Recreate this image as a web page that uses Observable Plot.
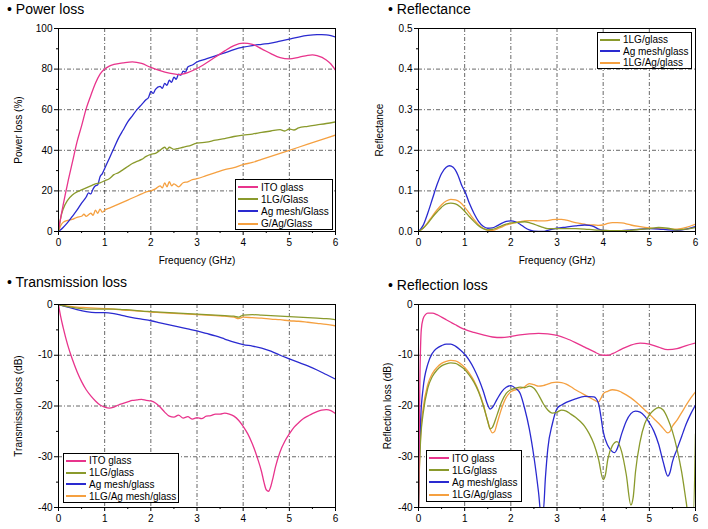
<!DOCTYPE html>
<html><head><meta charset="utf-8">
<script src="https://cdn.jsdelivr.net/npm/d3@7"></script>
<script src="https://cdn.jsdelivr.net/npm/@observablehq/plot@0.6"></script>
<style>
body{margin:0;background:#fff;}
#wrap{position:relative;width:708px;height:529px;overflow:hidden;font-family:"Liberation Sans",Arial,sans-serif;background:#fff;}
.title{position:absolute;font-size:14px;color:#000;white-space:nowrap;}
.panel{position:absolute;}
.legend{position:absolute;border:1px solid #000;background:#fff;font-size:10px;padding:1px 0 0 2px;box-sizing:border-box;}
.legend .row{display:flex;align-items:center;white-space:nowrap;}
.legend .sw{flex:0 0 auto;display:block;width:20px;height:2px;margin-right:3px;}
</style></head>
<body><div id="wrap"></div>
<script>
// ---------- colours / names ----------
const cITO = "#e8348c", c1LG = "#8a9a2c", cAg = "#2a2ad0", cOr = "#f5a040";

const xTicks = [0,1,2,3,4,5,6];
const xMinor = [0.5,1.5,2.5,3.5,4.5,5.5];
const xGrid = [1,2,3,4,5];

// ---------- Power loss (%) ----------
const plTicks = [0,20,40,60,80,100];
const plMinor = [10,30,50,70,90];
const plGrid = [20,40,60,80];
const plNames = ["ITO glass","1LG/Glass","Ag mesh/Glass","G/Ag/Glass"];
const plITO = [[0,1],[0.05,7],[0.1,13],[0.2,24],[0.3,34],[0.4,44],[0.5,52],[0.6,60.5],[0.7,67],[0.8,73],[0.9,77.5],[1.0,80],[1.1,81.5],[1.2,82.3],[1.4,83.1],[1.6,83.6],[1.8,82.8],[2.0,80.8],[2.2,79.2],[2.4,78],[2.6,77.3],[2.8,78.3],[3.0,80.3],[3.2,83],[3.4,86],[3.6,89],[3.8,91.6],[4.0,92.8],[4.2,92.2],[4.4,90],[4.6,87.6],[4.8,85.6],[5.0,85],[5.2,85.8],[5.4,86.8],[5.5,87],[5.6,86.6],[5.8,84.5],[5.9,82.5],[6.0,79.5]];
const pl1LG = [[0,0],[0.05,7],[0.1,11],[0.2,15.5],[0.3,18],[0.4,19.5],[0.5,20.5],[0.6,21.5],[0.7,22.5],[0.8,23.5],[0.9,24],[1.0,25],[1.1,26],[1.2,28],[1.3,29],[1.4,30.5],[1.5,32],[1.6,33.5],[1.7,34.5],[1.8,35.5],[1.9,37],[2.0,38],[2.1,38.5],[2.2,40],[2.3,41.5],[2.35,40.5],[2.4,41.5],[2.5,40.5],[2.6,41],[2.7,41.5],[2.8,42],[3.0,43.5],[3.2,44],[3.4,45],[3.6,45.8],[3.8,46.8],[4.0,47.5],[4.2,48],[4.4,48.8],[4.6,49.5],[4.8,50.2],[4.9,49.5],[5.0,50.5],[5.1,50],[5.2,51],[5.4,51.8],[5.6,52.5],[5.8,53.2],[6.0,54]];
const plAg = [[0,0],[0.1,2],[0.2,4.5],[0.3,7.5],[0.4,10.5],[0.5,14],[0.6,17],[0.65,19],[0.7,18.5],[0.75,21],[0.8,22.5],[0.85,23],[0.9,27],[0.95,28.5],[1.0,31],[1.1,36],[1.2,41],[1.3,46],[1.4,50],[1.5,54],[1.6,57],[1.7,60],[1.8,62.5],[1.9,65],[1.95,66],[2.0,69],[2.05,68],[2.1,70],[2.2,71.5],[2.25,70.5],[2.3,73],[2.35,72],[2.4,74.5],[2.45,73.5],[2.5,76],[2.55,75],[2.6,77.5],[2.65,77],[2.7,79],[2.75,78.5],[2.8,81],[2.9,82],[3.0,83.5],[3.2,85],[3.4,86.5],[3.6,88],[3.8,89.6],[4.0,90.8],[4.2,91.6],[4.4,92.2],[4.6,92.8],[4.8,93.8],[5.0,94.8],[5.2,95.8],[5.4,96.6],[5.6,97],[5.7,97],[5.8,96.9],[5.9,96.5],[6.0,95.8]];
const plGAg = [[0,0],[0.05,3],[0.1,4.5],[0.2,5.5],[0.3,6],[0.4,7],[0.5,7.5],[0.55,8.5],[0.6,7.5],[0.7,9],[0.75,8],[0.8,10.5],[0.85,9],[0.9,11],[0.95,9.5],[1.0,10.5],[1.1,11.5],[1.2,12.5],[1.3,13.5],[1.4,14.5],[1.5,15.5],[1.6,16.5],[1.7,17.5],[1.8,18.5],[1.9,19.5],[2.0,20],[2.1,21],[2.2,22.5],[2.25,21.5],[2.3,24],[2.35,22],[2.4,24.5],[2.45,22.5],[2.5,23.5],[2.6,22],[2.7,24],[2.8,24.5],[2.9,25.5],[3.0,26],[3.2,27.5],[3.4,29],[3.6,30.5],[3.8,31.5],[4.0,33],[4.2,34],[4.4,35.5],[4.6,37],[4.8,38.5],[5.0,40],[5.2,41.5],[5.4,43],[5.6,44.5],[5.8,46],[6.0,47.5]];

// ---------- Reflectance ----------
const rfTicks = [0,0.1,0.2,0.3,0.4,0.5];
const rfMinor = [0.05,0.15,0.25,0.35,0.45];
const rfGrid = [0.1,0.2,0.3,0.4];
const rfNames = ["1LG/glass","Ag mesh/glass","1LG/Ag/glass"];
const rf1LG = [[0,0],[0.1,0.008],[0.2,0.02],[0.3,0.035],[0.4,0.048],[0.5,0.06],[0.6,0.068],[0.7,0.07],[0.8,0.068],[0.9,0.061],[1.0,0.05],[1.1,0.037],[1.2,0.025],[1.3,0.014],[1.4,0.007],[1.5,0.004],[1.6,0.005],[1.7,0.009],[1.8,0.014],[1.9,0.018],[2.0,0.021],[2.1,0.022],[2.2,0.023],[2.3,0.024],[2.4,0.022],[2.5,0.018],[2.6,0.014],[2.7,0.01],[2.8,0.007],[3.0,0.007],[3.2,0.007],[3.4,0.007],[3.6,0.006],[3.8,0.004],[4.0,0.003],[4.2,0.002],[4.4,0.002],[4.6,0.003],[4.8,0.005],[5.0,0.007],[5.2,0.01],[5.4,0.008],[5.6,0.004],[5.8,0.006],[6.0,0.01]];
const rfAg = [[0,0],[0.1,0.015],[0.2,0.045],[0.3,0.08],[0.4,0.115],[0.5,0.143],[0.6,0.158],[0.67,0.162],[0.75,0.158],[0.85,0.14],[0.95,0.11],[1.0,0.1],[1.1,0.07],[1.2,0.045],[1.3,0.025],[1.4,0.013],[1.5,0.008],[1.6,0.009],[1.7,0.014],[1.8,0.02],[1.9,0.025],[2.0,0.026],[2.1,0.024],[2.2,0.018],[2.3,0.01],[2.4,0.004],[2.5,0.001],[2.7,0.0],[2.8,0.003],[3.0,0.008],[3.2,0.011],[3.4,0.014],[3.6,0.016],[3.7,0.015],[3.8,0.012],[3.9,0.006],[4.0,0.003],[4.2,0.002],[4.4,0.002],[4.6,0.004],[4.8,0.006],[5.0,0.007],[5.2,0.006],[5.4,0.004],[5.6,0.003],[5.8,0.006],[6.0,0.012]];
const rfGAg = [[0,0],[0.1,0.008],[0.2,0.022],[0.3,0.038],[0.4,0.053],[0.5,0.066],[0.6,0.075],[0.7,0.079],[0.8,0.078],[0.9,0.072],[1.0,0.06],[1.1,0.045],[1.2,0.03],[1.3,0.017],[1.4,0.008],[1.5,0.003],[1.6,0.003],[1.7,0.006],[1.8,0.011],[1.9,0.016],[2.0,0.019],[2.1,0.022],[2.2,0.024],[2.3,0.026],[2.4,0.027],[2.5,0.027],[2.6,0.026],[2.7,0.026],[2.8,0.027],[2.9,0.029],[3.0,0.03],[3.1,0.03],[3.2,0.028],[3.3,0.025],[3.4,0.022],[3.5,0.02],[3.6,0.018],[3.7,0.016],[3.8,0.016],[3.9,0.015],[4.0,0.016],[4.1,0.02],[4.2,0.022],[4.3,0.022],[4.4,0.021],[4.5,0.019],[4.6,0.016],[4.8,0.012],[5.0,0.009],[5.2,0.007],[5.4,0.006],[5.6,0.006],[5.8,0.01],[6.0,0.018]];

// ---------- Transmission loss (dB) ----------
const dbTicks = [0,-10,-20,-30,-40];
const dbMinor = [-5,-15,-25,-35];
const dbGrid = [-10,-20,-30];
const tlNames = ["ITO glass","1LG/glass","Ag mesh/glass","1LG/Ag mesh/glass"];
const tlITO = [[0,0],[0.05,-2.5],[0.1,-4.5],[0.2,-8],[0.3,-10.8],[0.4,-13.2],[0.5,-15.2],[0.6,-16.8],[0.7,-18],[0.8,-19],[0.9,-19.8],[1.0,-20.2],[1.1,-20.4],[1.2,-20.2],[1.3,-19.8],[1.4,-19.5],[1.5,-19.2],[1.6,-18.9],[1.7,-18.8],[1.8,-18.7],[1.9,-18.9],[2.0,-19],[2.1,-19.4],[2.2,-20.2],[2.3,-21.2],[2.4,-22],[2.5,-22.2],[2.6,-21.8],[2.7,-22.4],[2.8,-22.1],[2.9,-22.6],[3.0,-22.3],[3.1,-22.5],[3.2,-22],[3.3,-21.9],[3.4,-21.6],[3.5,-21.6],[3.6,-21.4],[3.7,-21.6],[3.8,-22],[3.9,-22.8],[4.0,-24],[4.1,-25.5],[4.2,-27.5],[4.3,-30],[4.4,-33],[4.45,-35],[4.5,-36.5],[4.55,-36.8],[4.6,-35.8],[4.65,-34],[4.7,-32],[4.8,-29],[4.9,-27],[5.0,-25.5],[5.1,-24.2],[5.2,-23.3],[5.3,-22.5],[5.4,-22],[5.5,-21.5],[5.6,-21.1],[5.7,-20.8],[5.8,-20.7],[5.9,-20.9],[6.0,-21.5]];
const tl1LG = [[0,0],[0.2,-0.4],[0.4,-0.7],[0.6,-0.9],[0.8,-0.9],[1.0,-0.9],[1.2,-0.9],[1.4,-1.0],[1.6,-1.1],[1.8,-1.3],[2.0,-1.4],[2.2,-1.5],[2.4,-1.6],[2.6,-1.7],[2.8,-1.8],[3.0,-1.9],[3.2,-2.0],[3.4,-2.1],[3.6,-2.2],[3.8,-2.3],[3.9,-2.5],[3.95,-2.3],[4.0,-2.1],[4.2,-2.0],[4.4,-2.1],[4.6,-2.2],[4.8,-2.3],[5.0,-2.4],[5.2,-2.5],[5.4,-2.6],[5.6,-2.7],[5.8,-2.8],[6.0,-3.0]];
const tlAg = [[0,0],[0.2,-0.5],[0.4,-1.0],[0.6,-1.4],[0.8,-1.6],[1.0,-1.6],[1.2,-1.8],[1.4,-2.2],[1.6,-2.6],[1.8,-2.9],[2.0,-3.2],[2.2,-3.6],[2.4,-4.0],[2.6,-4.4],[2.8,-4.8],[3.0,-5.2],[3.2,-5.7],[3.4,-6.2],[3.6,-6.8],[3.8,-7.4],[4.0,-7.9],[4.2,-8.2],[4.4,-8.6],[4.6,-9.2],[4.8,-10.0],[5.0,-10.7],[5.2,-11.4],[5.4,-12.1],[5.6,-12.9],[5.8,-13.8],[6.0,-14.7]];
const tlGAg = [[0,0],[0.2,-0.3],[0.4,-0.5],[0.6,-0.6],[0.8,-0.7],[1.0,-0.8],[1.2,-0.9],[1.4,-1.1],[1.6,-1.2],[1.8,-1.3],[2.0,-1.5],[2.2,-1.6],[2.4,-1.7],[2.6,-1.8],[2.8,-1.9],[3.0,-2.0],[3.2,-2.1],[3.4,-2.2],[3.6,-2.3],[3.8,-2.5],[3.9,-2.8],[4.0,-2.5],[4.2,-2.6],[4.4,-2.7],[4.6,-2.9],[4.8,-3.0],[5.0,-3.2],[5.2,-3.3],[5.4,-3.5],[5.6,-3.7],[5.8,-3.9],[6.0,-4.2]];

// ---------- Reflection loss (dB) ----------
const rlNames = ["ITO glass","1LG/glass","Ag mesh/glass","1LG/Ag/glass"];
const rlITO = [[0,-40],[0.03,-15],[0.06,-5],[0.1,-2.8],[0.15,-2.0],[0.2,-1.7],[0.3,-1.7],[0.4,-2.0],[0.5,-2.5],[0.6,-3.0],[0.7,-3.5],[0.8,-4.0],[0.9,-4.5],[1.0,-4.9],[1.2,-5.5],[1.4,-6.0],[1.6,-6.4],[1.8,-6.5],[2.0,-6.3],[2.2,-6.0],[2.4,-5.8],[2.6,-5.7],[2.8,-5.8],[3.0,-6.1],[3.2,-6.7],[3.4,-7.5],[3.6,-8.4],[3.8,-9.3],[4.0,-10.0],[4.1,-10.0],[4.2,-9.7],[4.4,-8.8],[4.6,-8.0],[4.8,-7.6],[5.0,-7.8],[5.2,-8.4],[5.4,-8.9],[5.6,-8.7],[5.8,-8.1],[6.0,-7.6]];
const rl1LG = [[0,-40],[0.02,-32],[0.05,-26],[0.1,-21.5],[0.2,-16.5],[0.3,-14.2],[0.4,-12.9],[0.5,-12.1],[0.6,-11.7],[0.7,-11.5],[0.8,-11.6],[0.9,-12.1],[1.0,-12.8],[1.1,-13.9],[1.2,-15.3],[1.3,-17.2],[1.4,-19.8],[1.5,-23],[1.55,-24.5],[1.6,-24.2],[1.7,-21.8],[1.8,-19.2],[1.9,-17.5],[2.0,-16.8],[2.1,-16.5],[2.2,-16.3],[2.3,-16.4],[2.4,-16.1],[2.5,-16.5],[2.6,-17.8],[2.7,-19.5],[2.8,-20.8],[2.9,-21.4],[3.0,-21.2],[3.1,-20.8],[3.2,-21],[3.3,-21.6],[3.4,-22.2],[3.5,-23],[3.6,-24],[3.7,-25.5],[3.8,-27.5],[3.9,-30.5],[4.0,-34.5],[4.05,-33.5],[4.1,-30.5],[4.2,-27.8],[4.3,-27],[4.4,-29],[4.5,-33.5],[4.6,-39.5],[4.65,-38],[4.7,-33],[4.8,-27],[4.9,-23.5],[5.0,-21.8],[5.1,-20.8],[5.2,-20.3],[5.3,-20.8],[5.4,-22.5],[5.5,-25],[5.6,-28.5],[5.7,-33],[5.8,-39],[5.85,-42],[5.95,-42],[6.0,-25.5]];
const rlAg = [[0,-40],[0.02,-30],[0.05,-22],[0.1,-16.5],[0.2,-11.8],[0.3,-9.6],[0.4,-8.6],[0.5,-8.1],[0.6,-7.8],[0.7,-7.8],[0.8,-8.2],[0.9,-8.9],[1.0,-9.8],[1.1,-11],[1.2,-12.6],[1.3,-14.6],[1.4,-17],[1.5,-19.8],[1.55,-20.6],[1.6,-20.3],[1.7,-18.7],[1.8,-17.2],[1.9,-16.3],[2.0,-16.0],[2.1,-16.5],[2.2,-17.5],[2.3,-20.5],[2.4,-24.5],[2.5,-30],[2.6,-37],[2.65,-41],[2.7,-41],[2.75,-34],[2.8,-28.5],[2.9,-23.5],[3.0,-20.5],[3.1,-19.8],[3.2,-19.3],[3.4,-18.6],[3.6,-18.1],[3.8,-18.2],[3.9,-19.5],[3.95,-22],[4.0,-25],[4.1,-27.8],[4.2,-29],[4.25,-29.2],[4.3,-28.5],[4.4,-25.5],[4.5,-23],[4.6,-21.5],[4.7,-21],[4.8,-21.2],[4.9,-22],[5.0,-23.3],[5.1,-25],[5.2,-27.5],[5.3,-31],[5.4,-33.8],[5.45,-33],[5.5,-31],[5.6,-28.5],[5.7,-26],[5.8,-23.5],[5.9,-21.5],[6.0,-19.8]];
const rlGAg = [[0,-40],[0.02,-32],[0.05,-25],[0.1,-20.5],[0.2,-15.8],[0.3,-13.6],[0.4,-12.4],[0.5,-11.6],[0.6,-11.2],[0.7,-11.0],[0.8,-11.1],[0.9,-11.6],[1.0,-12.4],[1.1,-13.5],[1.2,-15],[1.3,-17],[1.4,-19.6],[1.5,-23],[1.6,-25.3],[1.65,-25],[1.7,-23.5],[1.8,-20.5],[1.9,-18.3],[2.0,-17.2],[2.1,-16.8],[2.2,-16.6],[2.3,-16.2],[2.4,-15.6],[2.5,-15.8],[2.6,-16.1],[2.7,-16],[2.8,-15.7],[2.9,-15.4],[3.0,-15.3],[3.1,-15.4],[3.2,-15.7],[3.3,-16.2],[3.4,-16.8],[3.5,-17.3],[3.6,-17.8],[3.7,-18.3],[3.8,-18.8],[3.9,-19.2],[3.95,-18.5],[4.0,-17.6],[4.1,-17.1],[4.2,-16.8],[4.3,-16.9],[4.4,-17.3],[4.5,-17.8],[4.6,-18.4],[4.7,-19.1],[4.8,-19.9],[4.9,-20.8],[5.0,-21.6],[5.1,-22.5],[5.2,-23.4],[5.3,-24.4],[5.4,-25.3],[5.45,-25],[5.5,-24],[5.6,-22.8],[5.7,-21.3],[5.8,-19.8],[5.9,-18.4],[6.0,-17.2]];

// ---------- builder ----------
const FONT = "'Liberation Sans', Arial, sans-serif";
const wrap = document.getElementById("wrap");

function panel(o) {
  const marks = [
    Plot.gridX(xGrid, {stroke: "#000", strokeOpacity: 0.85, strokeWidth: 0.7, strokeDasharray: "4,2,1,2"}),
    Plot.gridY(o.yGrid, {stroke: "#000", strokeOpacity: 0.85, strokeWidth: 0.7, strokeDasharray: "4,2,1,2"}),
  ];
  o.series.slice().reverse().forEach(s => {
    marks.push(Plot.line(s.data, {x: d => d[0], y: d => d[1], stroke: s.color, strokeWidth: 1.3, curve: "monotone-x", clip: true}));
  });
  marks.push(Plot.frame({stroke: "#000", strokeWidth: 1}));
  marks.push(Plot.axisX(xTicks, {tickSize: 4, tickPadding: 3, tickFormat: d => String(d),
    label: o.xLabel || null, labelAnchor: "center", labelOffset: o.xLabelOffset || 0, labelArrow: "none"}));
  marks.push(Plot.axisX(xMinor, {tickSize: 2, tickFormat: () => "", label: null}));
  marks.push(Plot.axisY(o.yTicks, {tickSize: 4, tickPadding: 2, tickFormat: o.yFormat,
    label: o.yLabel, labelAnchor: "center", labelOffset: o.yLabelOffset, labelArrow: "none"}));
  marks.push(Plot.axisY(o.yMinor, {tickSize: 2, tickFormat: () => "", label: null}));
  const svg = Plot.plot({
    width: o.w, height: o.h,
    marginLeft: o.ml, marginRight: o.mr, marginTop: o.mt, marginBottom: o.mb,
    style: {fontFamily: FONT, fontSize: "10px", color: "#000", background: "transparent", overflow: "visible"},
    x: {domain: [0, 6]},
    y: {domain: o.yDomain},
    marks
  });
  const div = document.createElement("div");
  div.className = "panel";
  div.style.left = o.left + "px"; div.style.top = o.top + "px";
  div.appendChild(svg);
  wrap.appendChild(div);

  const t = document.createElement("div");
  t.className = "title";
  t.style.left = o.titleX + "px"; t.style.top = o.titleY + "px";
  t.textContent = "\u2022 " + o.title;
  wrap.appendChild(t);

  const lg = document.createElement("div");
  lg.className = "legend";
  Object.assign(lg.style, {left: o.lg[0] + "px", top: o.lg[1] + "px", width: o.lg[2] + "px", height: o.lg[3] + "px"});
  o.series.forEach(s => {
    const r = document.createElement("div"); r.className = "row";
    r.style.height = o.lgRow + "px";
    const sw = document.createElement("span"); sw.className = "sw"; sw.style.background = s.color;
    const tx = document.createElement("span"); tx.textContent = s.name;
    r.appendChild(sw); r.appendChild(tx); lg.appendChild(r);
  });
  wrap.appendChild(lg);
}

panel({left: 0, top: 0, w: 354, h: 270, ml: 58, mr: 19, mt: 28, mb: 39,
  yDomain: [0, 100], yTicks: plTicks, yMinor: plMinor, yGrid: plGrid, yFormat: d => String(d),
  yLabel: "Power loss (%)", yLabelOffset: 44, xLabel: "Frequency (GHz)", xLabelOffset: 32,
  title: "Power loss", titleX: 7, titleY: 1,
  series: [{name: plNames[0], color: cITO, data: plITO}, {name: plNames[1], color: c1LG, data: pl1LG},
           {name: plNames[2], color: cAg, data: plAg}, {name: plNames[3], color: cOr, data: plGAg}],
  lg: [235, 179, 98, 51], lgRow: 12.2});

panel({left: 354, top: 0, w: 354, h: 270, ml: 64, mr: 13, mt: 28, mb: 39,
  yDomain: [0, 0.5], yTicks: rfTicks, yMinor: rfMinor, yGrid: rfGrid, yFormat: d => d.toFixed(1),
  yLabel: "Reflectance", yLabelOffset: 43, xLabel: "Frequency (GHz)", xLabelOffset: 32,
  title: "Reflectance", titleX: 388, titleY: 1,
  series: [{name: rfNames[0], color: c1LG, data: rf1LG}, {name: rfNames[1], color: cAg, data: rfAg},
           {name: rfNames[2], color: cOr, data: rfGAg}],
  lg: [597, 32, 95, 37], lgRow: 11.6});

panel({left: 0, top: 270, w: 354, h: 259, ml: 58, mr: 19, mt: 34, mb: 22,
  yDomain: [-40, 0], yTicks: dbTicks, yMinor: dbMinor, yGrid: dbGrid, yFormat: d => String(d),
  yLabel: "Transmission loss (dB)", yLabelOffset: 44,
  title: "Transmission loss", titleX: 7, titleY: 274,
  series: [{name: tlNames[0], color: cITO, data: tlITO}, {name: tlNames[1], color: c1LG, data: tl1LG},
           {name: tlNames[2], color: cAg, data: tlAg}, {name: tlNames[3], color: cOr, data: tlGAg}],
  lg: [63, 453, 116, 50], lgRow: 11.8});

panel({left: 354, top: 270, w: 354, h: 259, ml: 64, mr: 13, mt: 34, mb: 22,
  yDomain: [-40, 0], yTicks: dbTicks, yMinor: dbMinor, yGrid: dbGrid, yFormat: d => String(d),
  yLabel: "Reflection loss (dB)", yLabelOffset: 35,
  title: "Reflection loss", titleX: 388, titleY: 277,
  series: [{name: rlNames[0], color: cITO, data: rlITO}, {name: rlNames[1], color: c1LG, data: rl1LG},
           {name: rlNames[2], color: cAg, data: rlAg}, {name: rlNames[3], color: cOr, data: rlGAg}],
  lg: [426, 450, 96, 52], lgRow: 12.2});
</script></body></html>
